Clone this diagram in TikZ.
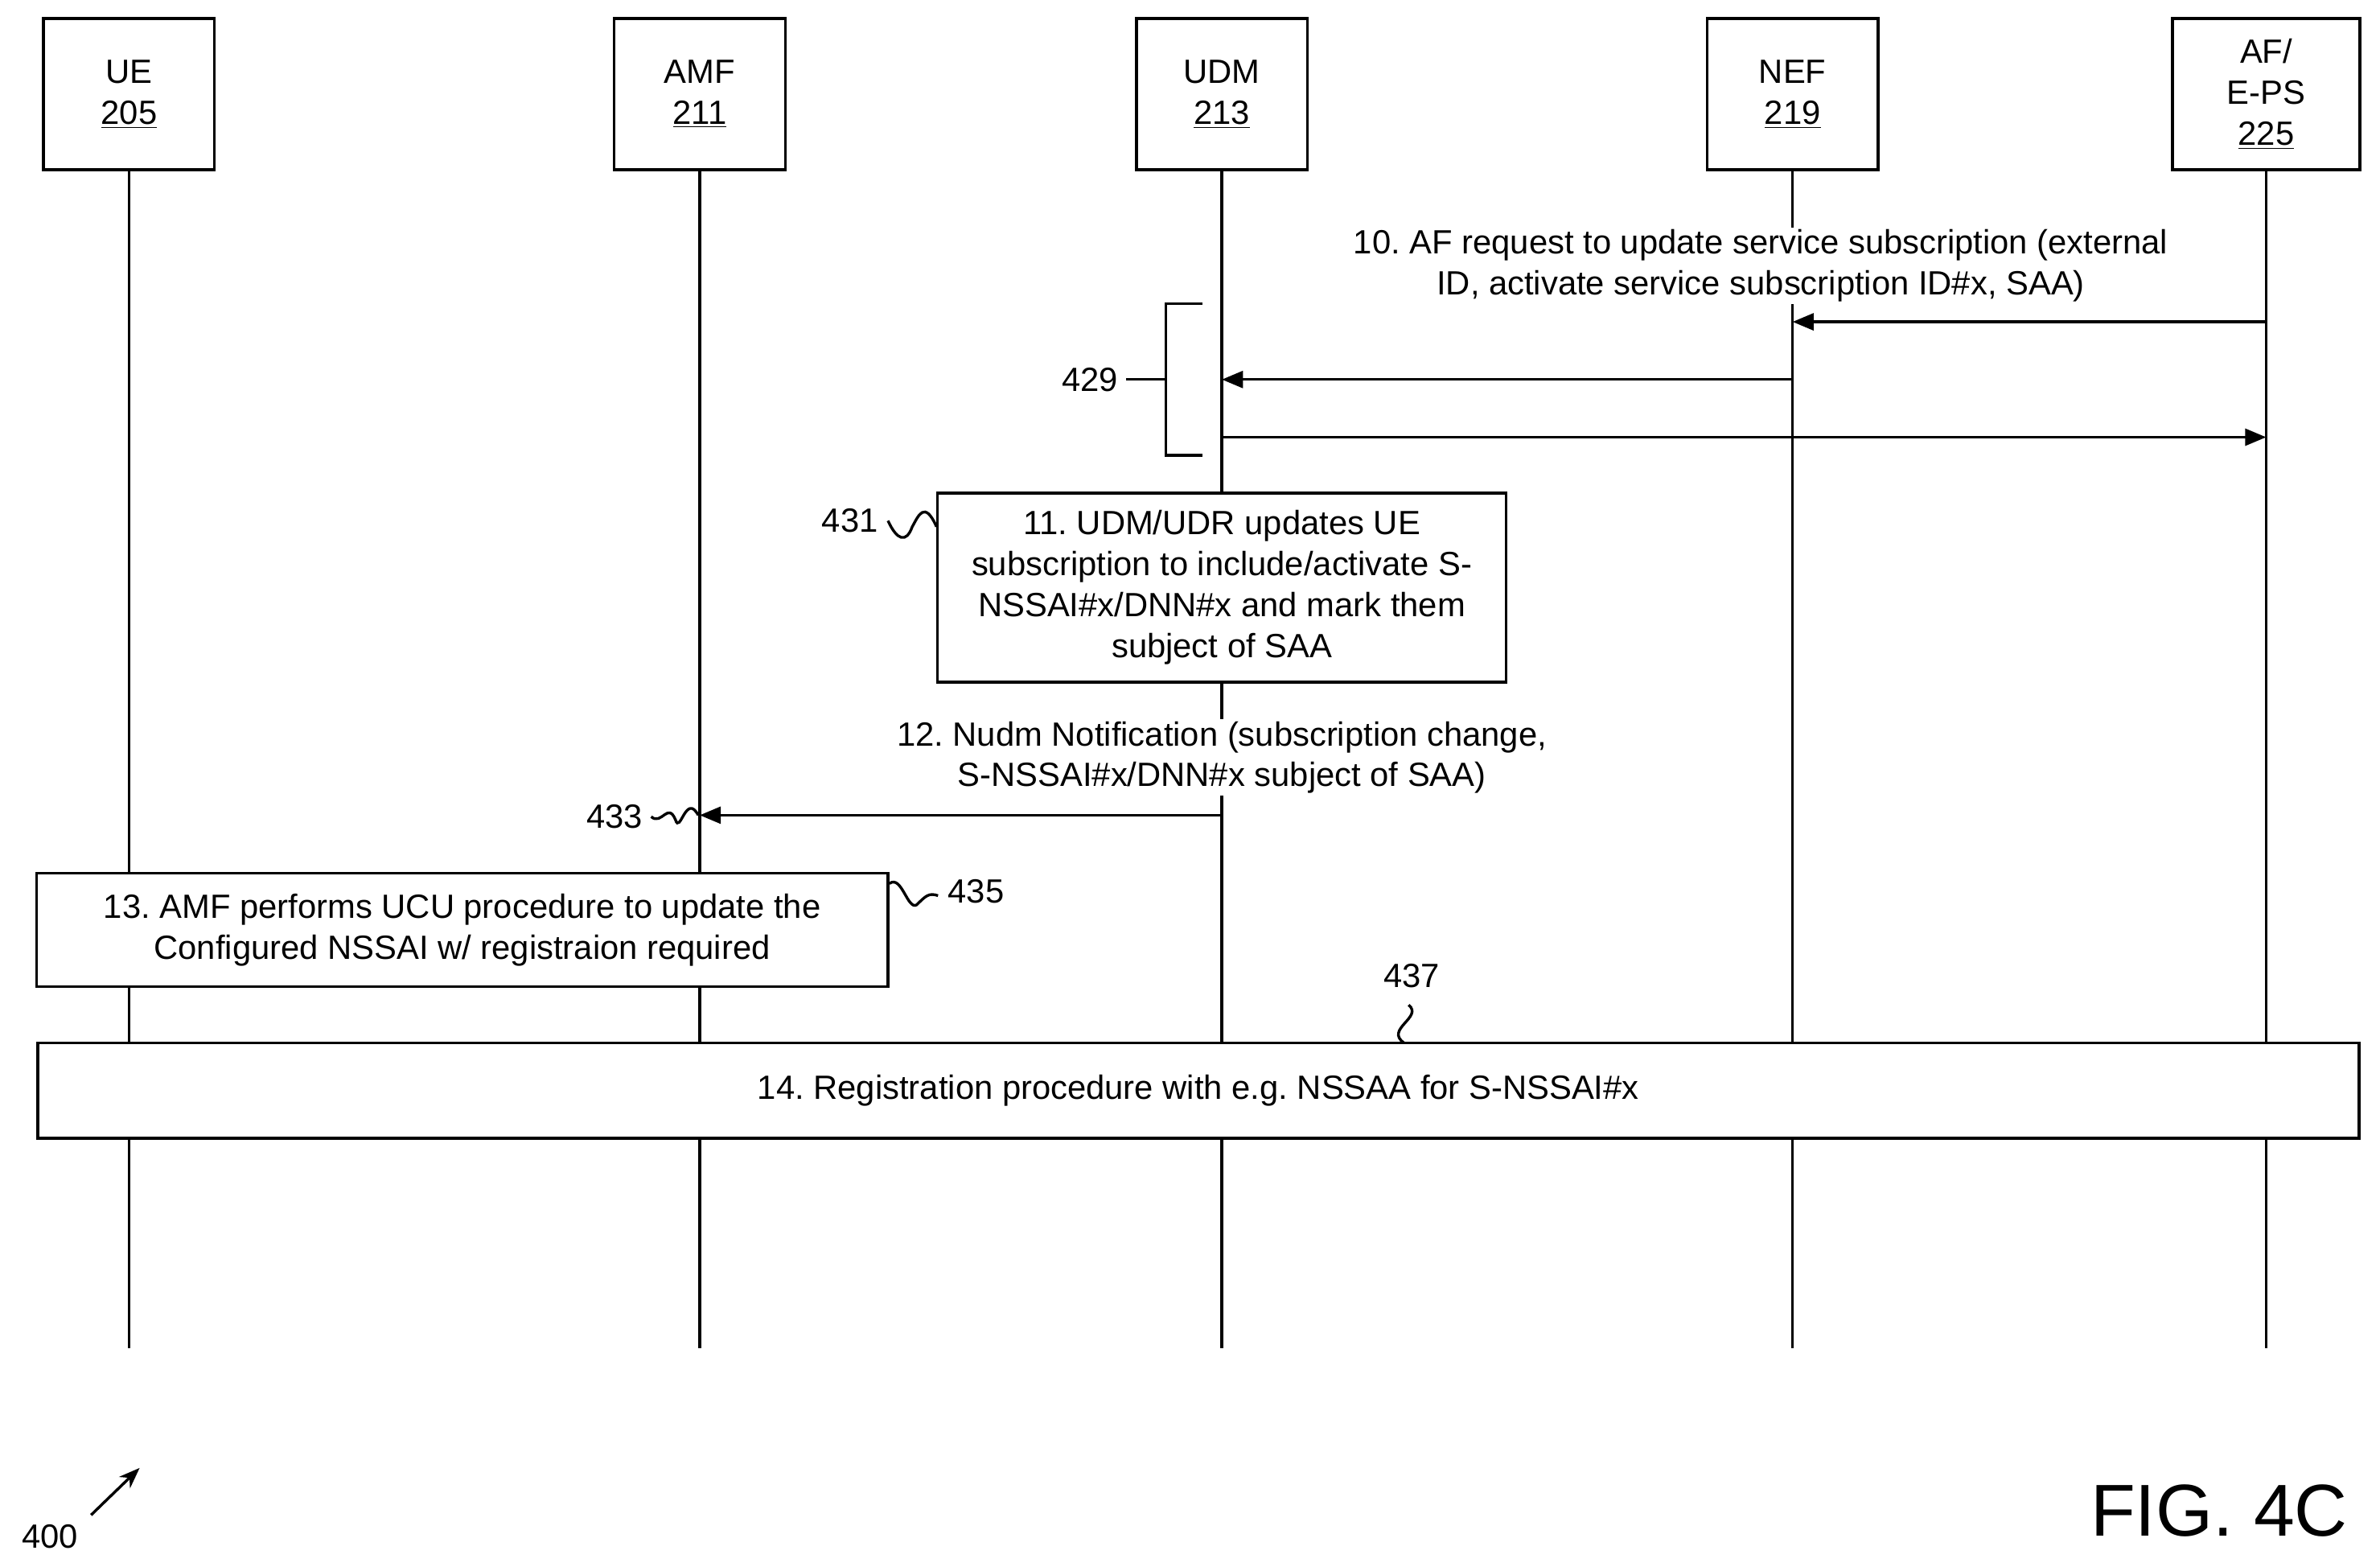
\documentclass[tikz,border=0pt]{standalone}
\usepackage{fontspec}
\setmainfont{Liberation Sans}
\usetikzlibrary{arrows.meta}
\frenchspacing
\begin{document}
\begin{tikzpicture}[x=0.0254cm,y=-0.0254cm,font=\fontsize{16}{19.5}\selectfont,
  every path/.style={line width=1.3pt},
  msg/.style={-{Triangle[length=10pt,width=8pt]}},
  stepbox/.style={draw,align=center,inner sep=0pt}]

	\useasboundingbox (0,0) rectangle (1568,1032);

        % heads and lifelines
        \foreach \n/\x/\t in {ue/85/{UE\\\underline{205}},amf/461/{AMF\\\underline{211}},
                udm/805/{UDM\\\underline{213}},nef/1181/{NEF\\\underline{219}}}{
          \node[draw,minimum width=81.4pt,minimum height=72pt,align=center] (\n) at (\x,62) {\t};
          \coordinate (\n-end) at (\x,888);
          \draw (\n.south)--(\n-end);
        }
        \node[draw,minimum width=89.3pt,minimum height=72pt,align=center] (af) at (1493,62)
           {AF/\\E-PS\\\underline{225}};
        \coordinate (af-end) at (1493,888);
        \draw (af.south)--(af-end);

       % messages
       \coordinate (m10a) at (1493,212); \coordinate (m10b) at (1181,212);
       \draw[msg] (m10a)--(m10b);
       \node[align=center,fill=white,inner sep=1pt] (l10) at (1160,175) {10. AF request to update service subscription (external\\ID, activate service subscription ID\#x, SAA)};

       \coordinate (m1a) at (1181,250); \coordinate (m1b) at (805,250);
       \draw[msg] (m1a)--(m1b);
       \coordinate (m2a) at (805,288); \coordinate (m2b) at (1493,288);
       \draw[msg] (m2a)--(m2b);

       \draw (792,200)-|(768,300)--(792,300);
       \draw (742,250)--(768,250);
       \node[left] (n429) at (742,250) {429};

       \node[stepbox,fill=white,minimum width=270.7pt,minimum height=90pt] (s11) at (805,387)
          {11. UDM/UDR updates UE\\subscription to include/activate S-\\NSSAI\#x/DNN\#x and mark them\\subject of SAA};
       \draw (617,347) .. controls (609,329) and (605,340) .. (601,347) .. controls (597,358) and (591,356) .. (585,343);
       \node (n431) at (560,343) {431};

       \node[align=center,fill=white,inner sep=1pt] (l12) at (805,499) {12. Nudm Notification (subscription change,\\S-NSSAI\#x/DNN\#x subject of SAA)};
       \coordinate (m12a) at (805,537); \coordinate (m12b) at (461,537);
       \draw[msg] (m12a)--(m12b);
       \draw (460,537) .. controls (452,522) and (448,550) .. (445,540) .. controls (440,528) and (436,544) .. (429,538);
       \node (n433) at (405,538) {433};

       \node[stepbox,fill=white,minimum width=405.4pt,minimum height=54pt] (s13) at (304.5,612.5)
          {13. AMF performs UCU procedure to update the\\Configured NSSAI w/ registraion required};
       \draw (586,582) .. controls (594,576) and (598,600) .. (604,596) .. controls (610,590) and (612,588) .. (618,590);
       \node (n435) at (643,587) {435};

       \node[stepbox,fill=white,minimum width=1105.5pt,minimum height=45.4pt] (s14) at (789.5,718.5)
          {14. Registration procedure with e.g. NSSAA for S-NSSAI\#x};
       \draw (925,687) .. controls (912,678) and (938,670) .. (928,662);
       \node (n437) at (930,643) {437};

       % figure labels
       \node (n400) at (33,1012) {400};
       \coordinate (a400) at (60,998); \coordinate (b400) at (92,967);
       \draw[-{Stealth[length=10pt]}] (a400)--(b400);
       \node[font=\fontsize{35}{40}\selectfont] (fig) at (1462,995) {FIG. 4C};

\end{tikzpicture}
\end{document}
